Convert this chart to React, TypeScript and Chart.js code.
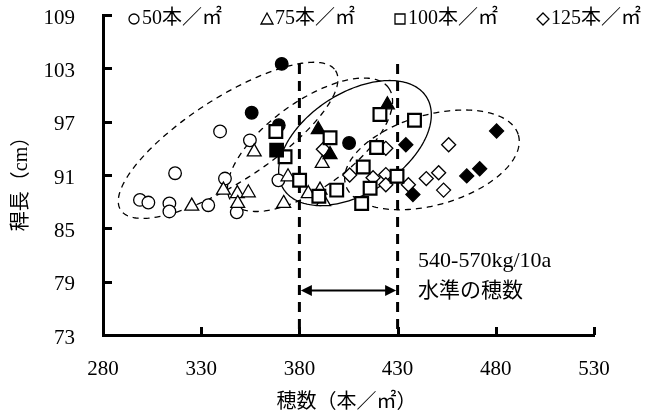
import React, { useEffect, useRef } from 'react';
import { Chart, registerables } from 'chart.js';

Chart.register(...registerables);

// ---------------- data ----------------
const xTickValues = [280, 330, 380, 430, 480, 530];
const yTickValues = [73, 79, 85, 91, 97, 103, 109];

const legendLabels = ['50本／㎡', '75本／㎡', '100本／㎡', '125本／㎡'];
const xTitle = '穂数（本／㎡）';
const yTitle = '稈長（cm）';
const noteLines = ['540-570kg/10a', '水準の穂数'];

// 50本/㎡
const circleOpen = [
  { x: 298.8, y: 88.2 }, { x: 303.1, y: 87.9 }, { x: 313.8, y: 87.8 }, { x: 313.8, y: 86.9 },
  { x: 316.7, y: 91.2 }, { x: 333.6, y: 87.6 }, { x: 339.6, y: 95.9 }, { x: 342.1, y: 90.6 },
  { x: 348.1, y: 86.8 }, { x: 354.8, y: 94.9 }, { x: 369.3, y: 90.4 },
];
const circleFilled = [
  { x: 371.0, y: 103.5 }, { x: 355.7, y: 98.0 }, { x: 405.3, y: 94.6 }, { x: 369.5, y: 96.6 },
];
// 75本/㎡
const triangleOpen = [
  { x: 325.2, y: 87.5 }, { x: 341.3, y: 89.3 }, { x: 348.4, y: 88.9 }, { x: 354.0, y: 89.0 },
  { x: 348.6, y: 87.8 }, { x: 357.0, y: 93.6 }, { x: 372.0, y: 87.8 }, { x: 374.2, y: 90.8 },
  { x: 384.5, y: 88.9 }, { x: 390.5, y: 89.3 }, { x: 392.3, y: 88.0 }, { x: 391.6, y: 92.3 },
];
const triangleFilled = [
  { x: 389.6, y: 96.1 }, { x: 395.6, y: 93.3 }, { x: 424.8, y: 98.9 },
];
// 100本/㎡
const squareOpen = [
  { x: 368.0, y: 95.9 }, { x: 372.7, y: 93.05 }, { x: 380.1, y: 90.4 }, { x: 395.6, y: 95.2 },
  { x: 389.9, y: 88.6 }, { x: 399.0, y: 89.3 }, { x: 411.7, y: 87.8 }, { x: 412.5, y: 91.9 },
  { x: 416.0, y: 89.5 }, { x: 419.3, y: 94.1 }, { x: 421.0, y: 97.8 }, { x: 429.7, y: 90.85 },
  { x: 438.6, y: 97.15 },
];
const squareFilled = [{ x: 368.4, y: 93.8 }];
// 125本/㎡
const diamondOpen = [
  { x: 392.2, y: 93.9 }, { x: 405.6, y: 91.0 }, { x: 417.5, y: 90.7 }, { x: 424.0, y: 94.0 },
  { x: 424.0, y: 91.05 }, { x: 424.0, y: 89.9 }, { x: 435.5, y: 89.9 }, { x: 444.6, y: 90.6 },
  { x: 450.9, y: 91.25 }, { x: 453.4, y: 89.3 }, { x: 456.0, y: 94.4 },
];
const diamondFilled = [
  { x: 434.2, y: 94.4 }, { x: 437.8, y: 88.8 }, { x: 465.2, y: 90.9 }, { x: 471.8, y: 91.7 },
  { x: 480.4, y: 95.95 },
];

// grouping ellipses (centre + two conjugate semi-axis vectors, in data units)
const ellipse50 = { cx: 343.7, cy: 94.9, ax: 54.7, ay: 7.84, bx: 11.6, by: -3.96, dashed: true };
const ellipse75 = { cx: 385.4, cy: 94.4, ax: 40.0, ay: 6.41, bx: 12.9, by: -3.91, dashed: true };
const ellipse100 = { cx: 408.3, cy: 94.6, ax: 36.3, ay: 5.21, bx: 13.9, by: -4.72, dashed: false };
const ellipse125 = { cx: 447.5, cy: 92.7, ax: 44.0, ay: 2.79, bx: 6.3, by: -4.87, dashed: true };
const ellipses = [ellipse50, ellipse75, ellipse100, ellipse125];

// target range of panicle number
const targetRange = [380, 430];
const rangeTop = 103.5;
const arrowLevel = 78;

// ---------------- styles ----------------
const FONT = "'Liberation Serif', 'Noto Sans CJK JP', serif";

function drawMarker(ctx: CanvasRenderingContext2D, kind: string, cx: number, cy: number) {
  ctx.beginPath();
  if (kind === 'circle') {
    ctx.arc(cx, cy, 5, 0, Math.PI * 2);
  } else if (kind === 'triangle') {
    ctx.moveTo(cx, cy - 6);
    ctx.lineTo(cx + 6, cy + 5);
    ctx.lineTo(cx - 6, cy + 5);
    ctx.closePath();
  } else if (kind === 'square') {
    ctx.rect(cx - 5, cy - 5, 10, 10);
  } else {
    ctx.moveTo(cx, cy - 6);
    ctx.lineTo(cx + 6, cy);
    ctx.lineTo(cx, cy + 6);
    ctx.lineTo(cx - 6, cy);
    ctx.closePath();
  }
  ctx.stroke();
}

const annotPlugin = {
  id: 'annot',
  beforeDatasetsDraw(chart: any) {
    const { ctx, scales } = chart;
    const x = scales.x;
    const y = scales.y;
    ctx.save();
    ctx.strokeStyle = '#000';
    // ellipses
    for (const e of ellipses) {
      ctx.beginPath();
      const n = 240;
      for (let i = 0; i <= n; i++) {
        const t = (i / n) * Math.PI * 2;
        const vx = e.cx + e.ax * Math.cos(t) + e.bx * Math.sin(t);
        const vy = e.cy + e.ay * Math.cos(t) + e.by * Math.sin(t);
        const px = x.getPixelForValue(vx);
        const py = y.getPixelForValue(vy);
        if (i === 0) ctx.moveTo(px, py);
        else ctx.lineTo(px, py);
      }
      ctx.closePath();
      ctx.lineWidth = 1.3;
      ctx.setLineDash(e.dashed ? [6, 5] : []);
      ctx.stroke();
    }
    // vertical dashed range lines
    ctx.setLineDash([10, 7]);
    ctx.lineWidth = 3;
    for (const v of targetRange) {
      const px = x.getPixelForValue(v);
      ctx.beginPath();
      ctx.moveTo(px, y.getPixelForValue(rangeTop));
      ctx.lineTo(px, y.getPixelForValue(yTickValues[0]));
      ctx.stroke();
    }
    ctx.setLineDash([]);
    // double arrow
    const ya = y.getPixelForValue(arrowLevel);
    const xl = x.getPixelForValue(targetRange[0]) + 1.5;
    const xr = x.getPixelForValue(targetRange[1]) - 1.5;
    ctx.lineWidth = 2;
    ctx.beginPath();
    ctx.moveTo(xl + 8, ya);
    ctx.lineTo(xr - 8, ya);
    ctx.stroke();
    ctx.fillStyle = '#000';
    ctx.beginPath();
    ctx.moveTo(xl, ya);
    ctx.lineTo(xl + 11, ya - 5.5);
    ctx.lineTo(xl + 11, ya + 5.5);
    ctx.closePath();
    ctx.fill();
    ctx.beginPath();
    ctx.moveTo(xr, ya);
    ctx.lineTo(xr - 11, ya - 5.5);
    ctx.lineTo(xr - 11, ya + 5.5);
    ctx.closePath();
    ctx.fill();
    // note text
    ctx.textBaseline = 'middle';
    ctx.textAlign = 'left';
    const tx = xr + 22;
    ctx.font = `22px ${FONT}`;
    ctx.fillText(noteLines[0], tx, ya - 29);
    ctx.font = `21px ${FONT}`;
    ctx.fillText(noteLines[1], tx, ya + 1);
    ctx.restore();
  },
  afterDraw(chart: any) {
    const { ctx, chartArea, scales } = chart;
    const x = scales.x;
    const y = scales.y;
    ctx.save();
    ctx.strokeStyle = '#000';
    ctx.fillStyle = '#000';
    ctx.lineWidth = 3;
    ctx.setLineDash([]);
    // inward tick marks
    for (const v of xTickValues) {
      const px = Math.round(x.getPixelForValue(v)) + 0.5;
      ctx.beginPath();
      ctx.moveTo(px, chartArea.bottom);
      ctx.lineTo(px, chartArea.bottom - 8);
      ctx.stroke();
    }
    for (const v of yTickValues) {
      const py = Math.round(y.getPixelForValue(v)) + 0.5;
      ctx.beginPath();
      ctx.moveTo(chartArea.left, py);
      ctx.lineTo(chartArea.left + 9, py);
      ctx.stroke();
    }
    // axis titles
    ctx.font = `20px ${FONT}`;
    ctx.textAlign = 'center';
    ctx.textBaseline = 'middle';
    ctx.fillText(xTitle, (chartArea.left + chartArea.right) / 2 - 2, chartArea.bottom + 68);
    ctx.save();
    ctx.translate(22, (chartArea.top + chartArea.bottom) / 2 + 4);
    ctx.rotate(-Math.PI / 2);
    ctx.fillText(yTitle, 0, 0);
    ctx.restore();
    // legend (justified between start and end)
    const kinds = ['circle', 'triangle', 'square', 'diamond'];
    ctx.font = `20px ${FONT}`;
    ctx.textAlign = 'left';
    const markerW = 14;
    const widths = legendLabels.map((l) => markerW + ctx.measureText(l).width);
    const start = 128;
    const end = 641;
    const gap = (end - start - widths.reduce((a, b) => a + b, 0)) / (legendLabels.length - 1);
    let cx = start;
    const ly = 19;
    ctx.lineWidth = 1.3;
    legendLabels.forEach((label, i) => {
      drawMarker(ctx, kinds[i], cx + 6, ly);
      ctx.fillText(label, cx + markerW, ly);
      cx += widths[i] + gap;
    });
    ctx.restore();
  },
};

function pointSet(data: any[], style: string, radius: number, filled: boolean, bw: number) {
  return {
    data,
    pointStyle: style,
    pointRadius: radius,
    pointHoverRadius: radius,
    pointBorderWidth: bw,
    pointHoverBorderWidth: bw,
    pointBorderColor: '#000',
    pointBackgroundColor: filled ? '#000' : '#fff',
    borderColor: '#000',
    backgroundColor: filled ? '#000' : '#fff',
    showLine: false,
    clip: false as any,
  };
}

export default function App() {
  const ref = useRef<HTMLCanvasElement>(null);
  useEffect(() => {
    const tickFont = { family: FONT, size: 21 };
    const chart = new Chart(ref.current as HTMLCanvasElement, {
      type: 'scatter',
      data: {
        datasets: [
          pointSet(squareFilled, 'rect', 9, true, 2),
          pointSet(squareOpen, 'rect', 9, false, 2.2),
          pointSet(triangleFilled, 'triangle', 8, true, 1.3),
          pointSet(triangleOpen, 'triangle', 8, false, 1.3),
          pointSet(diamondFilled, 'rectRot', 7, true, 1.3),
          pointSet(diamondOpen, 'rectRot', 7, false, 1.3),
          pointSet(circleFilled, 'circle', 6.3, true, 1.3),
          pointSet(circleOpen, 'circle', 6.3, false, 1.3),
        ] as any,
      },
      options: {
        responsive: false,
        animation: false,
        devicePixelRatio: 1,
        events: [],
        layout: { padding: { top: 15, right: 54, left: 0, bottom: 0 } },
        plugins: { legend: { display: false }, tooltip: { enabled: false } },
        scales: {
          x: {
            type: 'linear',
            min: xTickValues[0],
            max: xTickValues[xTickValues.length - 1],
            afterBuildTicks: (s: any) => { s.ticks = xTickValues.map((v) => ({ value: v })); },
            afterFit: (s: any) => { s.height = 83; s.paddingLeft = 0; s.paddingRight = 0; },
            grid: { display: false, drawTicks: false },
            border: { display: true, width: 3, color: '#000' },
            ticks: { padding: 22, color: '#000', font: tickFont, maxRotation: 0 },
          },
          y: {
            type: 'linear',
            min: yTickValues[0],
            max: yTickValues[yTickValues.length - 1],
            afterBuildTicks: (s: any) => { s.ticks = yTickValues.map((v) => ({ value: v })); },
            afterFit: (s: any) => { s.width = 103; s.paddingTop = 0; s.paddingBottom = 0; },
            grid: { display: false, drawTicks: false },
            border: { display: true, width: 3, color: '#000' },
            ticks: { padding: 28, color: '#000', font: tickFont, labelOffset: 3 },
          },
        },
      } as any,
      plugins: [annotPlugin],
    });
    return () => chart.destroy();
  }, []);
  return (
    <div style={{ position: 'absolute', left: 0, top: 0, width: 648, height: 418, background: '#fff' }}>
      <canvas ref={ref} width={648} height={418} style={{ display: 'block' }} />
    </div>
  );
}
